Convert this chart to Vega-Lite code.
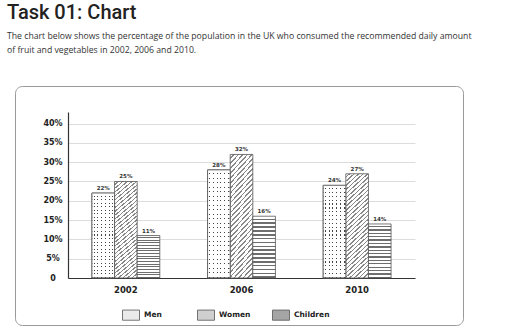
{
  "$schema": "https://vega.github.io/schema/vega-lite/v6.json",
  "width": 448,
  "height": 239,
  "autosize": {"type": "none"},
  "padding": {"left": 15, "top": 86, "right": 49, "bottom": 11},
  "background": "white",
  "title": {
    "text": "Task 01: Chart",
    "subtitle": ["The chart below shows the percentage of the population in the UK who consumed the recommended daily amount", "of fruit and vegetables in 2002, 2006 and 2010."],
    "anchor": "start",
    "frame": "group",
    "dx": -8,
    "offset": 31,
    "font": "Roboto",
    "fontSize": 20,
    "fontWeight": 500,
    "color": "#222",
    "subtitleFont": "Open Sans",
    "subtitleFontSize": 8.7,
    "subtitleColor": "#333",
    "subtitleLineHeight": 14.5,
    "subtitlePadding": 9
  },
  "data": {
    "values": [
      {"year": "2002", "group": "Men", "value": 0.22},
      {"year": "2002", "group": "Women", "value": 0.25},
      {"year": "2002", "group": "Children", "value": 0.11},
      {"year": "2006", "group": "Men", "value": 0.28},
      {"year": "2006", "group": "Women", "value": 0.32},
      {"year": "2006", "group": "Children", "value": 0.16},
      {"year": "2010", "group": "Men", "value": 0.24},
      {"year": "2010", "group": "Women", "value": 0.27},
      {"year": "2010", "group": "Children", "value": 0.14}
    ]
  },
  "config": {
    "view": {"stroke": "#9a9a9a", "strokeWidth": 1, "cornerRadius": 7},
    "axis": {"labelFont": "DejaVu Sans", "labelFontWeight": "bold", "labelColor": "#222"}
  },
  "layer": [
    {
      "mark": {"type": "bar", "strokeWidth": 0.8},
      "encoding": {
        "x": {
          "field": "year", "type": "nominal",
          "scale": {"range": [53, 400], "paddingInner": 0.413, "paddingOuter": 0.207},
          "axis": {"title": null, "offset": -47, "ticks": false, "labelAngle": 0, "domainColor": "#333", "domainWidth": 1.2, "labelFontSize": 8.5, "labelPadding": 7, "grid": false}
        },
        "xOffset": {"field": "group", "type": "nominal", "scale": {"domain": ["Men", "Women", "Children"], "paddingInner": 0, "paddingOuter": 0}},
        "y": {
          "field": "value", "type": "quantitative",
          "scale": {"domain": [0, 0.43], "range": [192, 26], "nice": false},
          "axis": {"title": null, "values": [0, 0.05, 0.1, 0.15, 0.2, 0.25, 0.3, 0.35, 0.4], "tickCount": 20, "format": ".0%", "labelExpr": "datum.value === 0 ? '0' : datum.label", "labelOverlap": false, "offset": -53, "ticks": false, "domainColor": "#333", "domainWidth": 1.2, "gridColor": "#dcdcdc", "labelFontSize": 8, "labelAlign": "center", "labelPadding": 15.5}
        },
        "stroke": {
          "field": "group", "type": "nominal",
          "scale": {"domain": ["Men", "Women", "Children"], "range": ["#555555", "#555555", "#555555"]}
        },
        "fill": {
          "condition": [
            {"test": "datum.group === 'Women'", "value": {"gradient": "linear", "x1": 0, "y1": 0, "x2": 0.23, "y2": 1.154, "stops": [
                {"offset": 0, "color": "#fff"}, {"offset": 0.022, "color": "#fff"}, {"offset": 0.022, "color": "#888"}, {"offset": 0.0333, "color": "#888"},
                {"offset": 0.0333, "color": "#fff"}, {"offset": 0.0553, "color": "#fff"}, {"offset": 0.0553, "color": "#888"}, {"offset": 0.0667, "color": "#888"},
                {"offset": 0.0667, "color": "#fff"}, {"offset": 0.0887, "color": "#fff"}, {"offset": 0.0887, "color": "#888"}, {"offset": 0.1, "color": "#888"},
                {"offset": 0.1, "color": "#fff"}, {"offset": 0.122, "color": "#fff"}, {"offset": 0.122, "color": "#888"}, {"offset": 0.1333, "color": "#888"},
                {"offset": 0.1333, "color": "#fff"}, {"offset": 0.1553, "color": "#fff"}, {"offset": 0.1553, "color": "#888"}, {"offset": 0.1667, "color": "#888"},
                {"offset": 0.1667, "color": "#fff"}, {"offset": 0.1887, "color": "#fff"}, {"offset": 0.1887, "color": "#888"}, {"offset": 0.2, "color": "#888"},
                {"offset": 0.2, "color": "#fff"}, {"offset": 0.222, "color": "#fff"}, {"offset": 0.222, "color": "#888"}, {"offset": 0.2333, "color": "#888"},
                {"offset": 0.2333, "color": "#fff"}, {"offset": 0.2553, "color": "#fff"}, {"offset": 0.2553, "color": "#888"}, {"offset": 0.2667, "color": "#888"},
                {"offset": 0.2667, "color": "#fff"}, {"offset": 0.2887, "color": "#fff"}, {"offset": 0.2887, "color": "#888"}, {"offset": 0.3, "color": "#888"},
                {"offset": 0.3, "color": "#fff"}, {"offset": 0.322, "color": "#fff"}, {"offset": 0.322, "color": "#888"}, {"offset": 0.3333, "color": "#888"},
                {"offset": 0.3333, "color": "#fff"}, {"offset": 0.3553, "color": "#fff"}, {"offset": 0.3553, "color": "#888"}, {"offset": 0.3667, "color": "#888"},
                {"offset": 0.3667, "color": "#fff"}, {"offset": 0.3887, "color": "#fff"}, {"offset": 0.3887, "color": "#888"}, {"offset": 0.4, "color": "#888"},
                {"offset": 0.4, "color": "#fff"}, {"offset": 0.422, "color": "#fff"}, {"offset": 0.422, "color": "#888"}, {"offset": 0.4333, "color": "#888"},
                {"offset": 0.4333, "color": "#fff"}, {"offset": 0.4553, "color": "#fff"}, {"offset": 0.4553, "color": "#888"}, {"offset": 0.4667, "color": "#888"},
                {"offset": 0.4667, "color": "#fff"}, {"offset": 0.4887, "color": "#fff"}, {"offset": 0.4887, "color": "#888"}, {"offset": 0.5, "color": "#888"},
                {"offset": 0.5, "color": "#fff"}, {"offset": 0.522, "color": "#fff"}, {"offset": 0.522, "color": "#888"}, {"offset": 0.5333, "color": "#888"},
                {"offset": 0.5333, "color": "#fff"}, {"offset": 0.5553, "color": "#fff"}, {"offset": 0.5553, "color": "#888"}, {"offset": 0.5667, "color": "#888"},
                {"offset": 0.5667, "color": "#fff"}, {"offset": 0.5887, "color": "#fff"}, {"offset": 0.5887, "color": "#888"}, {"offset": 0.6, "color": "#888"},
                {"offset": 0.6, "color": "#fff"}, {"offset": 0.622, "color": "#fff"}, {"offset": 0.622, "color": "#888"}, {"offset": 0.6333, "color": "#888"},
                {"offset": 0.6333, "color": "#fff"}, {"offset": 0.6553, "color": "#fff"}, {"offset": 0.6553, "color": "#888"}, {"offset": 0.6667, "color": "#888"},
                {"offset": 0.6667, "color": "#fff"}, {"offset": 0.6887, "color": "#fff"}, {"offset": 0.6887, "color": "#888"}, {"offset": 0.7, "color": "#888"},
                {"offset": 0.7, "color": "#fff"}, {"offset": 0.722, "color": "#fff"}, {"offset": 0.722, "color": "#888"}, {"offset": 0.7333, "color": "#888"},
                {"offset": 0.7333, "color": "#fff"}, {"offset": 0.7553, "color": "#fff"}, {"offset": 0.7553, "color": "#888"}, {"offset": 0.7667, "color": "#888"},
                {"offset": 0.7667, "color": "#fff"}, {"offset": 0.7887, "color": "#fff"}, {"offset": 0.7887, "color": "#888"}, {"offset": 0.8, "color": "#888"},
                {"offset": 0.8, "color": "#fff"}, {"offset": 0.822, "color": "#fff"}, {"offset": 0.822, "color": "#888"}, {"offset": 0.8333, "color": "#888"},
                {"offset": 0.8333, "color": "#fff"}, {"offset": 0.8553, "color": "#fff"}, {"offset": 0.8553, "color": "#888"}, {"offset": 0.8667, "color": "#888"},
                {"offset": 0.8667, "color": "#fff"}, {"offset": 0.8887, "color": "#fff"}, {"offset": 0.8887, "color": "#888"}, {"offset": 0.9, "color": "#888"},
                {"offset": 0.9, "color": "#fff"}, {"offset": 0.922, "color": "#fff"}, {"offset": 0.922, "color": "#888"}, {"offset": 0.9333, "color": "#888"},
                {"offset": 0.9333, "color": "#fff"}, {"offset": 0.9553, "color": "#fff"}, {"offset": 0.9553, "color": "#888"}, {"offset": 0.9667, "color": "#888"},
                {"offset": 0.9667, "color": "#fff"}, {"offset": 0.9887, "color": "#fff"}, {"offset": 0.9887, "color": "#888"}, {"offset": 1, "color": "#888"}
              ]}},
            {"test": "datum.group === 'Children'", "value": {"gradient": "linear", "x1": 0, "y1": 0, "x2": 0, "y2": 1, "stops": [
                {"offset": 0, "color": "#fff"}, {"offset": 0.0375, "color": "#fff"}, {"offset": 0.0375, "color": "#6e6e6e"}, {"offset": 0.0625, "color": "#6e6e6e"},
                {"offset": 0.0625, "color": "#fff"}, {"offset": 0.1, "color": "#fff"}, {"offset": 0.1, "color": "#6e6e6e"}, {"offset": 0.125, "color": "#6e6e6e"},
                {"offset": 0.125, "color": "#fff"}, {"offset": 0.1625, "color": "#fff"}, {"offset": 0.1625, "color": "#6e6e6e"}, {"offset": 0.1875, "color": "#6e6e6e"},
                {"offset": 0.1875, "color": "#fff"}, {"offset": 0.225, "color": "#fff"}, {"offset": 0.225, "color": "#6e6e6e"}, {"offset": 0.25, "color": "#6e6e6e"},
                {"offset": 0.25, "color": "#fff"}, {"offset": 0.2875, "color": "#fff"}, {"offset": 0.2875, "color": "#6e6e6e"}, {"offset": 0.3125, "color": "#6e6e6e"},
                {"offset": 0.3125, "color": "#fff"}, {"offset": 0.35, "color": "#fff"}, {"offset": 0.35, "color": "#6e6e6e"}, {"offset": 0.375, "color": "#6e6e6e"},
                {"offset": 0.375, "color": "#fff"}, {"offset": 0.4125, "color": "#fff"}, {"offset": 0.4125, "color": "#6e6e6e"}, {"offset": 0.4375, "color": "#6e6e6e"},
                {"offset": 0.4375, "color": "#fff"}, {"offset": 0.475, "color": "#fff"}, {"offset": 0.475, "color": "#6e6e6e"}, {"offset": 0.5, "color": "#6e6e6e"},
                {"offset": 0.5, "color": "#fff"}, {"offset": 0.5375, "color": "#fff"}, {"offset": 0.5375, "color": "#6e6e6e"}, {"offset": 0.5625, "color": "#6e6e6e"},
                {"offset": 0.5625, "color": "#fff"}, {"offset": 0.6, "color": "#fff"}, {"offset": 0.6, "color": "#6e6e6e"}, {"offset": 0.625, "color": "#6e6e6e"},
                {"offset": 0.625, "color": "#fff"}, {"offset": 0.6625, "color": "#fff"}, {"offset": 0.6625, "color": "#6e6e6e"}, {"offset": 0.6875, "color": "#6e6e6e"},
                {"offset": 0.6875, "color": "#fff"}, {"offset": 0.725, "color": "#fff"}, {"offset": 0.725, "color": "#6e6e6e"}, {"offset": 0.75, "color": "#6e6e6e"},
                {"offset": 0.75, "color": "#fff"}, {"offset": 0.7875, "color": "#fff"}, {"offset": 0.7875, "color": "#6e6e6e"}, {"offset": 0.8125, "color": "#6e6e6e"},
                {"offset": 0.8125, "color": "#fff"}, {"offset": 0.85, "color": "#fff"}, {"offset": 0.85, "color": "#6e6e6e"}, {"offset": 0.875, "color": "#6e6e6e"},
                {"offset": 0.875, "color": "#fff"}, {"offset": 0.9125, "color": "#fff"}, {"offset": 0.9125, "color": "#6e6e6e"}, {"offset": 0.9375, "color": "#6e6e6e"},
                {"offset": 0.9375, "color": "#fff"}, {"offset": 0.975, "color": "#fff"}, {"offset": 0.975, "color": "#6e6e6e"}, {"offset": 1, "color": "#6e6e6e"}
              ]}},
            {"test": "datum.group === 'Men'", "value": {"gradient": "linear", "x1": 0, "y1": 0, "x2": 1, "y2": 0, "stops": [
                {"offset": 0, "color": "#fff"}, {"offset": 0.07, "color": "#fff"}, {"offset": 0.07, "color": "#444"}, {"offset": 0.115, "color": "#444"}, {"offset": 0.115, "color": "#fff"},
                {"offset": 0.2367, "color": "#fff"}, {"offset": 0.2367, "color": "#444"}, {"offset": 0.2817, "color": "#444"}, {"offset": 0.2817, "color": "#fff"},
                {"offset": 0.4033, "color": "#fff"}, {"offset": 0.4033, "color": "#444"}, {"offset": 0.4483, "color": "#444"}, {"offset": 0.4483, "color": "#fff"},
                {"offset": 0.57, "color": "#fff"}, {"offset": 0.57, "color": "#444"}, {"offset": 0.615, "color": "#444"}, {"offset": 0.615, "color": "#fff"},
                {"offset": 0.7367, "color": "#fff"}, {"offset": 0.7367, "color": "#444"}, {"offset": 0.7817, "color": "#444"}, {"offset": 0.7817, "color": "#fff"},
                {"offset": 0.9033, "color": "#fff"}, {"offset": 0.9033, "color": "#444"}, {"offset": 0.9483, "color": "#444"}, {"offset": 0.9483, "color": "#fff"},
                {"offset": 1, "color": "#fff"}
              ]}}
          ],
          "field": "group", "type": "nominal",
          "scale": {"domain": ["Men", "Women", "Children"], "range": ["#eaeaea", "#cfcfcf", "#a5a5a5"]},
          "legend": {
            "orient": "none", "legendX": 107, "legendY": 220, "direction": "horizontal", "title": null,
            "symbolType": "M-1,-0.6H1V0.6H-1Z", "symbolSize": 289, "symbolStrokeWidth": 0.8,
            "labelFont": "DejaVu Sans", "labelFontWeight": "bold", "labelFontSize": 7.5, "labelColor": "#222", "labelOffset": 4, "columnPadding": 15, "gridAlign": "all"
          }
        }
      }
    },
    {
      "transform": [{"filter": "datum.group === 'Men'"}],
      "mark": {
        "type": "bar", "stroke": "#555", "strokeWidth": 0.8,
        "fill": {"gradient": "linear", "x1": 0, "y1": 0, "x2": 0, "y2": 1, "stops": [
          {"offset": 0, "color": "#fff"}, {"offset": 0.029, "color": "#fff"}, {"offset": 0.029, "color": "rgba(255,255,255,0)"}, {"offset": 0.0417, "color": "rgba(255,255,255,0)"},
          {"offset": 0.0417, "color": "#fff"}, {"offset": 0.0707, "color": "#fff"}, {"offset": 0.0707, "color": "rgba(255,255,255,0)"}, {"offset": 0.0833, "color": "rgba(255,255,255,0)"},
          {"offset": 0.0833, "color": "#fff"}, {"offset": 0.1123, "color": "#fff"}, {"offset": 0.1123, "color": "rgba(255,255,255,0)"}, {"offset": 0.125, "color": "rgba(255,255,255,0)"},
          {"offset": 0.125, "color": "#fff"}, {"offset": 0.154, "color": "#fff"}, {"offset": 0.154, "color": "rgba(255,255,255,0)"}, {"offset": 0.1667, "color": "rgba(255,255,255,0)"},
          {"offset": 0.1667, "color": "#fff"}, {"offset": 0.1957, "color": "#fff"}, {"offset": 0.1957, "color": "rgba(255,255,255,0)"}, {"offset": 0.2083, "color": "rgba(255,255,255,0)"},
          {"offset": 0.2083, "color": "#fff"}, {"offset": 0.2373, "color": "#fff"}, {"offset": 0.2373, "color": "rgba(255,255,255,0)"}, {"offset": 0.25, "color": "rgba(255,255,255,0)"},
          {"offset": 0.25, "color": "#fff"}, {"offset": 0.279, "color": "#fff"}, {"offset": 0.279, "color": "rgba(255,255,255,0)"}, {"offset": 0.2917, "color": "rgba(255,255,255,0)"},
          {"offset": 0.2917, "color": "#fff"}, {"offset": 0.3207, "color": "#fff"}, {"offset": 0.3207, "color": "rgba(255,255,255,0)"}, {"offset": 0.3333, "color": "rgba(255,255,255,0)"},
          {"offset": 0.3333, "color": "#fff"}, {"offset": 0.3623, "color": "#fff"}, {"offset": 0.3623, "color": "rgba(255,255,255,0)"}, {"offset": 0.375, "color": "rgba(255,255,255,0)"},
          {"offset": 0.375, "color": "#fff"}, {"offset": 0.404, "color": "#fff"}, {"offset": 0.404, "color": "rgba(255,255,255,0)"}, {"offset": 0.4167, "color": "rgba(255,255,255,0)"},
          {"offset": 0.4167, "color": "#fff"}, {"offset": 0.4457, "color": "#fff"}, {"offset": 0.4457, "color": "rgba(255,255,255,0)"}, {"offset": 0.4583, "color": "rgba(255,255,255,0)"},
          {"offset": 0.4583, "color": "#fff"}, {"offset": 0.4873, "color": "#fff"}, {"offset": 0.4873, "color": "rgba(255,255,255,0)"}, {"offset": 0.5, "color": "rgba(255,255,255,0)"},
          {"offset": 0.5, "color": "#fff"}, {"offset": 0.529, "color": "#fff"}, {"offset": 0.529, "color": "rgba(255,255,255,0)"}, {"offset": 0.5417, "color": "rgba(255,255,255,0)"},
          {"offset": 0.5417, "color": "#fff"}, {"offset": 0.5707, "color": "#fff"}, {"offset": 0.5707, "color": "rgba(255,255,255,0)"}, {"offset": 0.5833, "color": "rgba(255,255,255,0)"},
          {"offset": 0.5833, "color": "#fff"}, {"offset": 0.6123, "color": "#fff"}, {"offset": 0.6123, "color": "rgba(255,255,255,0)"}, {"offset": 0.625, "color": "rgba(255,255,255,0)"},
          {"offset": 0.625, "color": "#fff"}, {"offset": 0.654, "color": "#fff"}, {"offset": 0.654, "color": "rgba(255,255,255,0)"}, {"offset": 0.6667, "color": "rgba(255,255,255,0)"},
          {"offset": 0.6667, "color": "#fff"}, {"offset": 0.6957, "color": "#fff"}, {"offset": 0.6957, "color": "rgba(255,255,255,0)"}, {"offset": 0.7083, "color": "rgba(255,255,255,0)"},
          {"offset": 0.7083, "color": "#fff"}, {"offset": 0.7373, "color": "#fff"}, {"offset": 0.7373, "color": "rgba(255,255,255,0)"}, {"offset": 0.75, "color": "rgba(255,255,255,0)"},
          {"offset": 0.75, "color": "#fff"}, {"offset": 0.779, "color": "#fff"}, {"offset": 0.779, "color": "rgba(255,255,255,0)"}, {"offset": 0.7917, "color": "rgba(255,255,255,0)"},
          {"offset": 0.7917, "color": "#fff"}, {"offset": 0.8207, "color": "#fff"}, {"offset": 0.8207, "color": "rgba(255,255,255,0)"}, {"offset": 0.8333, "color": "rgba(255,255,255,0)"},
          {"offset": 0.8333, "color": "#fff"}, {"offset": 0.8623, "color": "#fff"}, {"offset": 0.8623, "color": "rgba(255,255,255,0)"}, {"offset": 0.875, "color": "rgba(255,255,255,0)"},
          {"offset": 0.875, "color": "#fff"}, {"offset": 0.904, "color": "#fff"}, {"offset": 0.904, "color": "rgba(255,255,255,0)"}, {"offset": 0.9167, "color": "rgba(255,255,255,0)"},
          {"offset": 0.9167, "color": "#fff"}, {"offset": 0.9457, "color": "#fff"}, {"offset": 0.9457, "color": "rgba(255,255,255,0)"}, {"offset": 0.9583, "color": "rgba(255,255,255,0)"},
          {"offset": 0.9583, "color": "#fff"}, {"offset": 0.9873, "color": "#fff"}, {"offset": 0.9873, "color": "rgba(255,255,255,0)"}, {"offset": 1, "color": "rgba(255,255,255,0)"}
        ]}
      },
      "encoding": {
        "x": {"field": "year", "type": "nominal"},
        "xOffset": {"field": "group", "type": "nominal", "scale": {"domain": ["Men", "Women", "Children"]}},
        "y": {"field": "value", "type": "quantitative"}
      }
    },
    {
      "mark": {"type": "text", "font": "DejaVu Sans", "fontWeight": "bold", "fontSize": 5.5, "color": "#333", "baseline": "alphabetic", "dy": -3},
      "encoding": {
        "x": {"field": "year", "type": "nominal"},
        "xOffset": {"field": "group", "type": "nominal", "scale": {"domain": ["Men", "Women", "Children"]}},
        "y": {"field": "value", "type": "quantitative"},
        "text": {"field": "value", "type": "quantitative", "format": ".0%"}
      }
    }
  ]
}
